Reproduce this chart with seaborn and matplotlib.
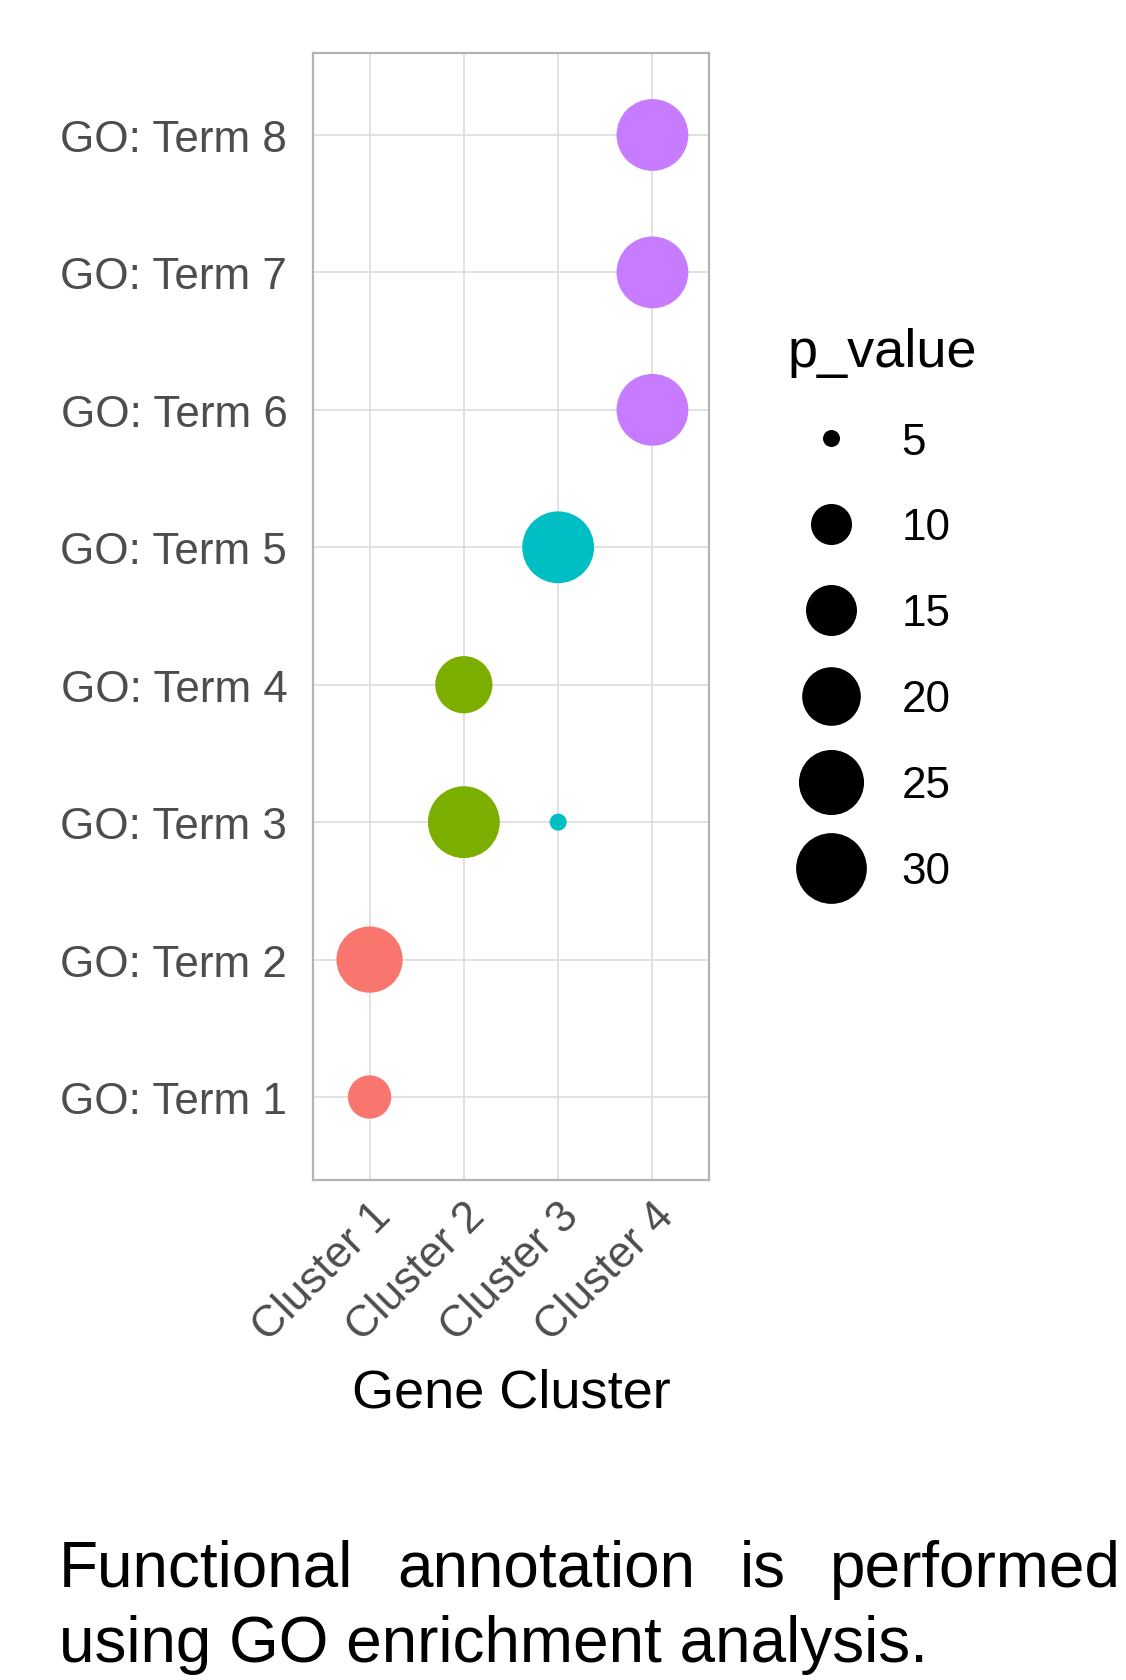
import numpy as np
import pandas as pd
import matplotlib
matplotlib.use("Agg")
import matplotlib.pyplot as plt
from matplotlib.lines import Line2D
import seaborn as sns

# Datos del gráfico
terms = ["GO: Term 1", "GO: Term 2", "GO: Term 3", "GO: Term 3", "GO: Term 4",
         "GO: Term 5", "GO: Term 6", "GO: Term 7", "GO: Term 8"]
clusters = ["Cluster 1", "Cluster 1", "Cluster 2", "Cluster 3", "Cluster 2",
            "Cluster 3", "Cluster 4", "Cluster 4", "Cluster 4"]
p_values = [11, 26, 31, 5, 19, 31, 31, 31, 31]

cluster_order = ["Cluster 1", "Cluster 2", "Cluster 3", "Cluster 4"]
term_order = ["GO: Term %d" % i for i in range(1, 9)]
legend_values = [5, 10, 15, 20, 25, 30]
palette = ["#F8766D", "#7CAE00", "#00BFC4", "#C77CFF"]

df = pd.DataFrame({"term": terms, "cluster": clusters, "p_value": p_values})
df["x"] = df["cluster"].map({c: i for i, c in enumerate(cluster_order)})
df["y"] = df["term"].map({t: i for i, t in enumerate(term_order)})

DPI = 100


def diam_pt(v):
    # diámetro del punto (estilo ggplot: raíz del valor)
    px = 17 + 10.75 * np.sqrt(max(v - 5, 0))
    return px * 72 / DPI


sns.set_theme(style="white")
plt.rcParams["font.family"] = ["Liberation Sans", "DejaVu Sans"]
plt.rcParams["text.color"] = "black"

fig = plt.figure(figsize=(1126 / DPI, 1681 / DPI), dpi=DPI)
ax = fig.add_axes([313 / 1126, 1 - 1180.5 / 1681, 396 / 1126, 1127 / 1681])

size_map = {v: diam_pt(v) ** 2 for v in sorted(set(p_values))}
sns.scatterplot(data=df, x="x", y="y", hue="cluster", hue_order=cluster_order,
                palette=palette, size="p_value", sizes=size_map, linewidth=0,
                legend=False, ax=ax, zorder=3)

ax.set_xlim(-0.6, 3.6)
ax.set_ylim(-0.6, 7.6)
ax.set_xticks(range(4))
ax.set_xticklabels(cluster_order)
ax.set_yticks(range(8))
ax.set_yticklabels(term_order)
ax.grid(True, color="#DEDEDE", linewidth=1.3, zorder=0)
ax.set_axisbelow(True)
for sp in ax.spines.values():
    sp.set_color("#B3B3B3")
    sp.set_linewidth(1.6)
ax.tick_params(axis="both", colors="#B3B3B3", length=9.5, width=1.3,
               labelcolor="#4D4D4D", labelsize=31.7)
ax.tick_params(axis="y", pad=9)
ax.tick_params(axis="x", pad=1.5)
for lab in ax.get_xticklabels():
    lab.set_rotation(45)
    lab.set_ha("right")
    lab.set_va("top")
    lab.set_rotation_mode("anchor")
ax.set_xlabel("Gene Cluster", fontsize=39, color="black", labelpad=14)
ax.set_ylabel("")

# leyenda de tamaños
handles = [Line2D([0], [0], marker="o", linestyle="", color="black",
                  markeredgewidth=0, markersize=diam_pt(v)) for v in legend_values]
leg = fig.legend(handles, [str(v) for v in legend_values], title="p_value",
                 loc="upper left", bbox_to_anchor=(769.5 / 1126, 1 - 310 / 1681),
                 frameon=False, fontsize=31.7, title_fontsize=39,
                 labelspacing=1.02, handletextpad=0.6, borderaxespad=0)
leg._legend_box.align = "left"
for t in leg.get_texts():
    t.set_color("black")
leg.get_title().set_color("black")

# pie de figura
y1 = 1 - 1587 / 1681
fig.text(59 / 1126, y1, "Functional", fontsize=46, ha="left", va="baseline")
fig.text(397 / 1126, y1, "annotation", fontsize=46, ha="left", va="baseline")
fig.text(740 / 1126, y1, "is", fontsize=46, ha="left", va="baseline")
fig.text(1121 / 1126, y1, "performed", fontsize=46, ha="right", va="baseline")
fig.text(59 / 1126, 1 - 1662 / 1681, "using GO enrichment analysis.", fontsize=46,
         ha="left", va="baseline")

fig.savefig("out.png", dpi=DPI, facecolor="white")
